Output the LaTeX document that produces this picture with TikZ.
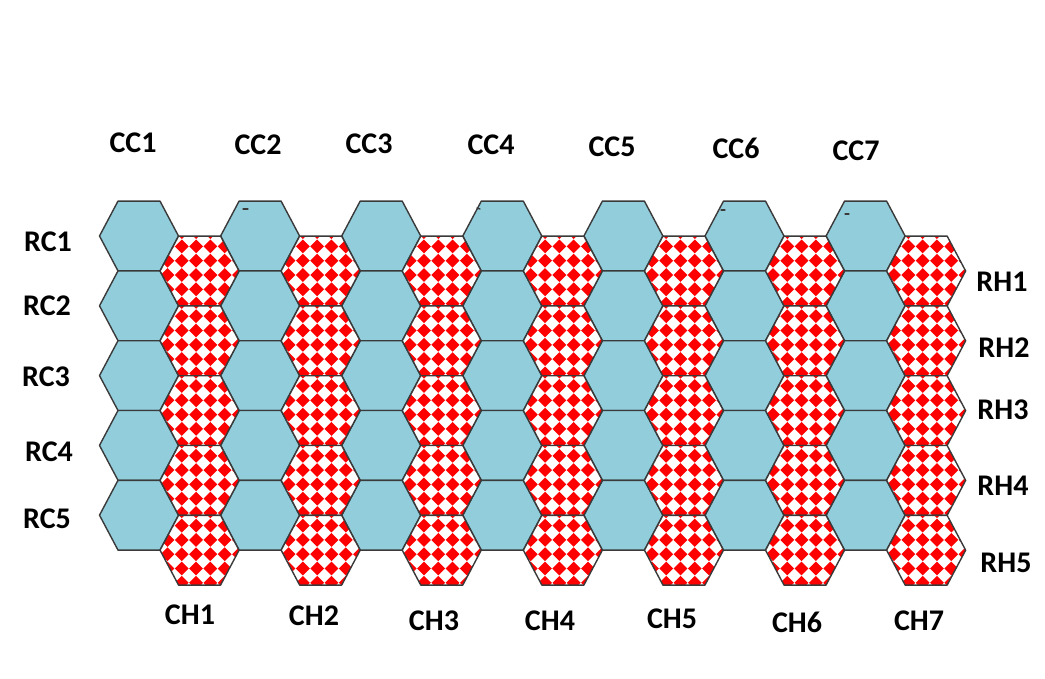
\documentclass[tikz,border=0pt]{standalone}
\usepackage{fontspec}
\setmainfont{Carlito}
\definecolor{hexblue}{HTML}{92CDDC}
\definecolor{hexedge}{HTML}{3A3A3A}
\definecolor{hexred}{HTML}{FF0000}
\tikzset{
  lbl/.style={font=\bfseries\fontsize{30}{30}\selectfont, inner sep=0pt, text=black},
  hexline/.style={draw=hexedge, line width=1.4pt, line join=round},
  bluehex/.pic={
    \path[hexline, fill=hexblue] (-39.5,0) -- (-21,-34.9) -- (21,-34.9) -- (39.5,0) -- (21,34.9) -- (-21,34.9) -- cycle;
  },
  redhex/.pic={
    \begin{scope}
      \clip (-39.5,0) -- (-21,-34.9) -- (21,-34.9) -- (39.5,0) -- (21,34.9) -- (-21,34.9) -- cycle;
      \fill[white] (-41,-37) rectangle (41,37);
      \foreach \i in {-3,...,3}{
        \foreach \j in {-3,...,3}{
          \fill[hexred, shift={({\i*14.3-3.5},{\j*14.3+4})}] (-6.9,0) -- (0,-6.9) -- (6.9,0) -- (0,6.9) -- cycle;
        }
      }
    \end{scope}
    \path[hexline] (-39.5,0) -- (-21,-34.9) -- (21,-34.9) -- (39.5,0) -- (21,34.9) -- (-21,34.9) -- cycle;
  },
  tick/.style={draw=hexedge, line width=1.3pt, line cap=round}
}
\begin{document}
\begin{tikzpicture}[x=1pt,y=-1pt]
  \useasboundingbox (0,0) rectangle (1045,679);
  \fill[white] (0,0) rectangle (1045,679);
  % blue hexagons
  \foreach \k in {0,...,6}{
    \foreach \j in {0,...,4}{
      \pic at ({139+121.1*\k},{236+69.8*\j}) {bluehex};
    }
  }
  % red patterned hexagons
  \foreach \k in {0,...,6}{
    \foreach \j in {0,...,4}{
      \pic at ({199.55+121.1*\k},{271+69.8*\j}) {redhex};
    }
  }
  % tiny marks in top hexagons
  \draw[tick] (243,209) -- (248,209);
  \draw[tick] (477,208) -- (480,209);
  \draw[tick] (721,210) -- (725,210);
  \draw[tick] (845,214) -- (849,214);
  % column labels (top)
  \node[lbl] (cc1) at (133,143) {CC1};
  \node[lbl] (cc2) at (258,145) {CC2};
  \node[lbl] (cc3) at (369,144) {CC3};
  \node[lbl] (cc4) at (491,145) {CC4};
  \node[lbl] (cc5) at (612,147) {CC5};
  \node[lbl] (cc6) at (736,148) {CC6};
  \node[lbl] (cc7) at (856,151) {CC7};
  % row labels (left)
  \node[lbl] (rc1) at (48,242) {RC1};
  \node[lbl] (rc2) at (47,306) {RC2};
  \node[lbl] (rc3) at (46,377) {RC3};
  \node[lbl] (rc4) at (49,452) {RC4};
  \node[lbl] (rc5) at (47,519) {RC5};
  % row labels (right)
  \node[lbl] (rh1) at (1002,282) {RH1};
  \node[lbl] (rh2) at (1004,348) {RH2};
  \node[lbl] (rh3) at (1003,410) {RH3};
  \node[lbl] (rh4) at (1003,486) {RH4};
  \node[lbl] (rh5) at (1006,563) {RH5};
  % column labels (bottom)
  \node[lbl] (ch1) at (190,615) {CH1};
  \node[lbl] (ch2) at (314,616) {CH2};
  \node[lbl] (ch3) at (434,621) {CH3};
  \node[lbl] (ch4) at (550,621) {CH4};
  \node[lbl] (ch5) at (672,619) {CH5};
  \node[lbl] (ch6) at (797,622) {CH6};
  \node[lbl] (ch7) at (919,621) {CH7};
\end{tikzpicture}
\end{document}
